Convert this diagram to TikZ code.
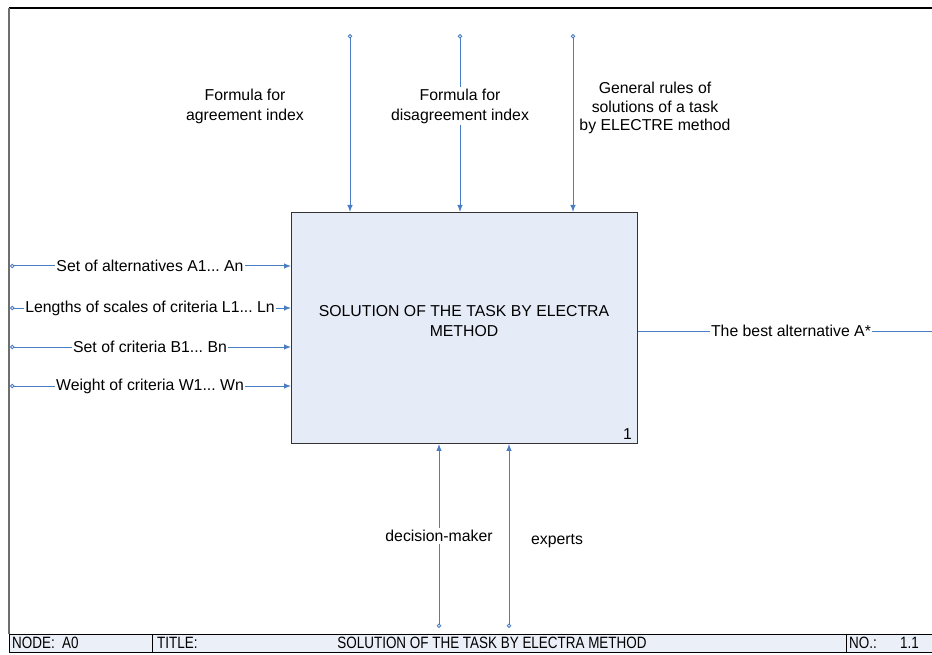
\documentclass[tikz,border=0pt]{standalone}
\usepackage{fontspec}
\setmainfont{Liberation Sans}
\newfontfamily\narrowfont[FakeStretch=0.82]{Liberation Sans}
\usetikzlibrary{arrows.meta}
\definecolor{arrowblue}{RGB}{74,126,196}
\definecolor{boxfill}{RGB}{230,236,247}
\definecolor{barfill}{RGB}{234,239,248}
\definecolor{framegray}{RGB}{110,110,110}
\frenchspacing
\begin{document}
\begin{tikzpicture}[x=1pt,y=-1pt,
  font=\fontsize{15.8}{18.5}\selectfont,
  flow/.style={draw=arrowblue, line width=1pt,
    {Circle[open,length=4.5pt,width=4.5pt,fill=white]}-{Latex[length=7pt,width=5.5pt]}},
  lbl/.style={fill=white, inner xsep=1pt, inner ysep=2pt, align=center},
  freelbl/.style={inner sep=0pt, align=center},
  celltext/.style={font=\narrowfont\fontsize{16.4}{18}\selectfont, inner sep=0pt}]
\useasboundingbox (0,0) rectangle (932,655);

% frame
\coordinate (fTL) at (9,8);
\coordinate (fTR) at (932,8);
\coordinate (fBL) at (9,634);
\draw[line width=1.5pt, black] (fTL) -- (fTR);
\draw[line width=1.5pt, framegray] (fTL) -- (fBL);

% main activity box
\node[draw=black!80, line width=0.9pt, fill=boxfill, anchor=north west,
      inner sep=0pt, minimum width=346, minimum height=231] (box) at (291,212) {};
\node[freelbl, font=\fontsize{15.8}{19.5}\selectfont] (boxtext) at (464,321) {SOLUTION OF THE TASK BY ELECTRA\\METHOD};
\node[freelbl, anchor=south east] (boxnum) at (632,440) {1};

% controls (top)
\coordinate (c1) at (350,34);
\coordinate (c2) at (460,34);
\coordinate (c3) at (573,34);
\draw[flow] (c1) -- (c1 |- box.north);
\draw[flow] (c2) -- (c2 |- box.north);
\draw[flow] (c3) -- (c3 |- box.north);
\node[freelbl, font=\fontsize{15.8}{20}\selectfont] (lc1) at (245,106) {Formula for\\agreement index};
\node[lbl, font=\fontsize{15.8}{20}\selectfont] (lc2) at (460,106) {Formula for\\disagreement index};
\node[freelbl] (lc3) at (655,108) {General rules of\\solutions of a task\\by ELECTRE method};

% inputs (left)
\coordinate (i1) at (10,266);
\coordinate (i2) at (10,308);
\coordinate (i3) at (10,347);
\coordinate (i4) at (10,386);
\draw[flow] (i1) -- (i1 -| box.west);
\draw[flow] (i2) -- (i2 -| box.west);
\draw[flow] (i3) -- (i3 -| box.west);
\draw[flow] (i4) -- (i4 -| box.west);
\node[lbl] (li1) at (150,266) {Set of alternatives A1... An};
\node[lbl] (li2) at (150,308) {Lengths of scales of criteria L1... Ln};
\node[lbl] (li3) at (150,347) {Set of criteria B1... Bn};
\node[lbl] (li4) at (150,386) {Weight of criteria W1... Wn};

% output (right)
\coordinate (o1) at (932,331);
\draw[draw=arrowblue, line width=1pt] (o1 -| box.east) -- (o1);
\node[lbl] (lo1) at (791,331) {The best alternative A*};

% mechanisms (bottom)
\coordinate (m1) at (439,628);
\coordinate (m2) at (509,628);
\draw[flow] (m1) -- (m1 |- box.south);
\draw[flow] (m2) -- (m2 |- box.south);
\node[lbl] (lm1) at (439,536) {decision-maker};
\node[freelbl] (lm2) at (557,541) {experts};

% bottom title bar
\node[draw=black, line width=0.9pt, fill=barfill, anchor=north west, inner sep=0pt,
      minimum width=935, minimum height=18] (bar) at (9,634) {};
\coordinate (d1) at (152,634);
\coordinate (d2) at (846,634);
\draw[line width=0.9pt] (d1) -- (d1 |- bar.south);
\draw[line width=0.9pt] (d2) -- (d2 |- bar.south);
\node[celltext, anchor=west] (tnode) at (12,643) {NODE:};
\node[celltext, anchor=west] (tnodev) at (62,643) {A0};
\node[celltext, anchor=west] (ttitle) at (157,643) {TITLE:};
\node[celltext] (ttitlev) at (492,643) {SOLUTION OF THE TASK BY ELECTRA METHOD};
\node[celltext, anchor=west] (tno) at (849,643) {NO.:};
\node[celltext, anchor=west] (tnov) at (900,643) {1.1};
\end{tikzpicture}
\end{document}
